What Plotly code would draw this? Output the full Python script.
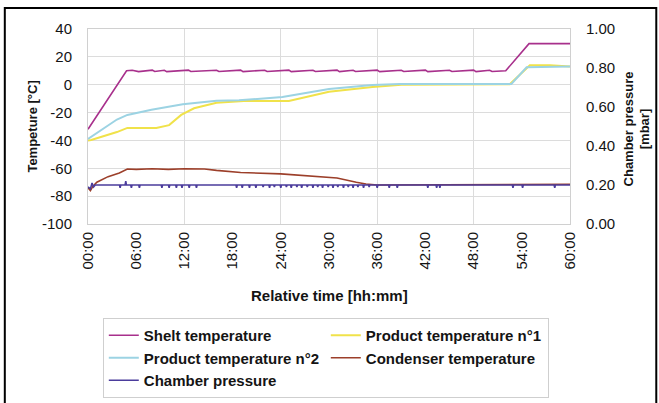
import plotly.graph_objects as go

# ---------------- data (hours, values) ----------------
shelf_t = [0, 4.8, 5.5, 6.0, 6.3, 8.0, 8.3, 9.5, 9.8, 12.5, 12.8, 16.0, 16.3, 19.0, 19.3,
           22.0, 22.3, 25.0, 25.3, 28.0, 28.3, 31.0, 31.3, 33.0, 33.3, 36.0, 36.3, 39.0, 39.3,
           42.0, 42.3, 45.0, 45.3, 48.0, 48.3, 50.0, 50.3, 52.0, 54.9, 60.0]
shelf_v = [-32, 10, 10.4, 10.0, 9.4, 10.5, 9.5, 10.4, 9.4, 10.5, 9.5, 10.4, 9.5, 10.5, 9.4,
           10.4, 9.5, 10.5, 9.4, 10.4, 9.5, 10.5, 9.4, 10.4, 9.5, 10.5, 9.4, 10.4, 9.5,
           10.5, 9.4, 10.4, 9.5, 10.5, 9.4, 10.4, 9.5, 10.0, 29.5, 29.5]

prod1_t = [0, 0.4, 3.6, 4.9, 8.5, 10.1, 11.6, 13.2, 16.0, 19.4, 25.0, 30.0, 35.4, 39.0, 52.5, 55.0, 57.5, 60.0]
prod1_v = [-40, -39.7, -34, -31, -31, -29, -21.7, -16.9, -13, -11.7, -11.7, -5, -1.6, 0, 0.3, 14, 14, 13]

prod2_t = [0, 3.6, 4.9, 7.9, 11.8, 16.0, 18.8, 24.2, 30.0, 35.4, 38.8, 52.7, 54.6, 60.0]
prod2_v = [-39, -25, -21.7, -18, -14, -11.5, -11.2, -8.8, -3.1, -0.2, 0.5, 0.5, 12.5, 13]

cond_t = [0, 0.3, 0.6, 1.1, 2.5, 3.9, 4.9, 6.0, 8.0, 10.0, 12.0, 14.5, 16.0, 19.0, 24.0,
          28.0, 31.0, 33.4, 34.6, 36.0, 52.0, 56.0, 60.0]
cond_v = [-74, -76, -73, -70, -66, -63.4, -60.5, -60.8, -60.3, -60.8, -60.3, -60.5, -61.5, -63, -64,
          -65.5, -67, -70, -71.3, -72, -72, -71.5, -71.5]

press_t = [0, 0.3, 0.5, 0.7, 0.9, 3.92, 4.0, 4.08, 4.62, 4.7, 4.78, 5.32, 5.4, 5.48, 6.32, 6.4, 6.48,
           9.12, 9.2, 9.28, 10.02, 10.1, 10.18, 10.92, 11.0, 11.08, 11.62, 11.7, 11.78,
           12.52, 12.6, 12.68, 13.42, 13.5, 13.58, 18.42, 18.5, 18.58, 19.12, 19.2, 19.28,
           20.02, 20.1, 20.18, 20.82, 20.9, 20.98, 21.72, 21.8, 21.88, 22.52, 22.6, 22.68,
           23.12, 23.2, 23.28, 23.92, 24.0, 24.08, 24.62, 24.7, 24.78, 25.22, 25.3, 25.38,
           25.92, 26.0, 26.08, 26.52, 26.6, 26.68, 27.22, 27.3, 27.38, 27.92, 28.0, 28.08,
           28.52, 28.6, 28.68, 29.12, 29.2, 29.28, 29.82, 29.9, 29.98, 30.42, 30.5, 30.58,
           31.02, 31.1, 31.18, 31.72, 31.8, 31.88, 32.32, 32.4, 32.48, 32.92, 33.0, 33.08,
           33.52, 33.6, 33.68, 34.22, 34.3, 34.38, 34.92, 35.0, 35.08, 35.92, 36.0, 36.08,
           37.42, 37.5, 37.58, 38.42, 38.5, 38.58, 42.22, 42.3, 42.38, 43.32, 43.4, 43.48,
           43.72, 43.8, 43.88, 52.82, 52.9, 52.98, 54.02, 54.1, 54.18, 58.02, 58.1, 58.18, 60.0]
press_v = [0.19, 0.18, 0.21, 0.19, 0.2, 0.2, 0.185, 0.2, 0.2, 0.22, 0.2, 0.2, 0.185, 0.2, 0.2, 0.185, 0.2,
           0.2, 0.185, 0.2, 0.2, 0.185, 0.2, 0.2, 0.185, 0.2, 0.2, 0.185, 0.2,
           0.2, 0.185, 0.2, 0.2, 0.185, 0.2, 0.2, 0.185, 0.2, 0.2, 0.185, 0.2,
           0.2, 0.185, 0.2, 0.2, 0.185, 0.2, 0.2, 0.19, 0.2, 0.2, 0.185, 0.2,
           0.2, 0.19, 0.2, 0.2, 0.185, 0.2, 0.2, 0.19, 0.2, 0.2, 0.185, 0.2,
           0.2, 0.19, 0.2, 0.2, 0.185, 0.2, 0.2, 0.19, 0.2, 0.2, 0.185, 0.2,
           0.2, 0.19, 0.2, 0.2, 0.185, 0.2, 0.2, 0.19, 0.2, 0.2, 0.185, 0.2,
           0.2, 0.19, 0.2, 0.2, 0.185, 0.2, 0.2, 0.19, 0.2, 0.2, 0.185, 0.2,
           0.2, 0.19, 0.2, 0.2, 0.185, 0.2, 0.2, 0.19, 0.2, 0.2, 0.185, 0.2,
           0.2, 0.185, 0.2, 0.2, 0.185, 0.2, 0.2, 0.185, 0.2, 0.2, 0.185, 0.2,
           0.2, 0.185, 0.2, 0.2, 0.185, 0.2, 0.2, 0.185, 0.2, 0.2, 0.185, 0.2, 0.2]

x_ticks = [0, 6, 12, 18, 24, 30, 36, 42, 48, 54, 60]
x_labels = ["00:00", "06:00", "12:00", "18:00", "24:00", "30:00", "36:00", "42:00", "48:00", "54:00", "60:00"]
y_ticks = [40, 20, 0, -20, -40, -60, -80, -100]
y_labels = ["40", "20", "0", "-20", "-40", "-60", "-80", "-100"]
y2_ticks = [1.0, 0.8, 0.6, 0.4, 0.2, 0.0]
y2_labels = ["1.00", "0.80", "0.60", "0.40", "0.20", "0.00"]

names = ["Shelt temperature", "Product temperature n°1", "Product temperature n°2",
         "Condenser temperature", "Chamber pressure"]

# ---------------- figure ----------------
FONT = "Liberation Sans, Arial, sans-serif"
TXT = "#141414"
fig = go.Figure()

fig.add_trace(go.Scatter(x=shelf_t, y=shelf_v, name=names[0], mode="lines",
                         line=dict(color="#a8308c", width=1.6)))
fig.add_trace(go.Scatter(x=prod1_t, y=prod1_v, name=names[1], mode="lines",
                         line=dict(color="#f0e24a", width=2)))
fig.add_trace(go.Scatter(x=prod2_t, y=prod2_v, name=names[2], mode="lines",
                         line=dict(color="#9cd3e3", width=2)))
fig.add_trace(go.Scatter(x=cond_t, y=cond_v, name=names[3], mode="lines",
                         line=dict(color="#9c3f2a", width=1.6)))
fig.add_trace(go.Scatter(x=press_t, y=press_v, name=names[4], mode="lines", yaxis="y2",
                         line=dict(color="#4b3c9c", width=1.6)))

# invisible helper trace so the 12-hour grid axis exists
fig.add_trace(go.Scatter(x=[0, 60], y=[None, None], xaxis="x2", showlegend=False, hoverinfo="skip"))

fig.update_layout(
    width=659, height=403,
    margin=dict(l=88, r=89, t=29, b=179, autoexpand=False),
    paper_bgcolor="white", plot_bgcolor="white",
    font=dict(family=FONT, color=TXT),
    showlegend=True,
    xaxis=dict(range=[0, 60], tickvals=x_ticks, ticktext=x_labels, tickangle=-90,
               showgrid=False, zeroline=False, showline=True, linecolor="#d0d0d0",
               mirror=True, ticks="", ticklabelstandoff=1,
               tickfont=dict(size=15, family=FONT, color=TXT)),
    xaxis2=dict(range=[0, 60], overlaying="x", dtick=12, tick0=0, showgrid=True,
                gridcolor="#dcdcdc", gridwidth=1, showticklabels=False, zeroline=False,
                layer="below traces"),
    yaxis=dict(range=[-100, 40], tickvals=y_ticks, ticktext=y_labels, showgrid=True,
               gridcolor="#dcdcdc", zeroline=False, showline=True, linecolor="#d0d0d0",
               ticks="", ticklabelstandoff=12, tickfont=dict(size=15, family=FONT, color=TXT)),
    yaxis2=dict(range=[0, 1], tickvals=y2_ticks, ticktext=y2_labels, overlaying="y",
                side="right", showgrid=False, zeroline=False, showline=True,
                linecolor="#d0d0d0", ticks="", ticklabelstandoff=12,
                tickfont=dict(size=15, family=FONT, color=TXT)),
    legend=dict(orientation="h", xref="container", yref="container",
                x=0.156, y=0.211, xanchor="left", yanchor="top",
                entrywidth=177, entrywidthmode="pixels",
                bordercolor="#cfcfcf", borderwidth=1, bgcolor="white",
                font=dict(size=15, family=FONT, color=TXT, weight="bold")),
)

fig.add_annotation(text="<b>Tempeture [°C]</b>", xref="paper", yref="paper",
                   x=-0.116, y=0.5, textangle=-90, showarrow=False,
                   xanchor="center", yanchor="middle", font=dict(size=13, family=FONT, color=TXT))
fig.add_annotation(text="<b>Chamber pressure<br>[mbar]</b>", xref="paper", yref="paper",
                   x=1.139, y=0.49, textangle=-90, showarrow=False,
                   xanchor="center", yanchor="middle", font=dict(size=13, family=FONT, color=TXT))
fig.add_annotation(text="<b>Relative time [hh:mm]</b>", xref="paper", yref="paper",
                   x=0.5, y=-0.369, showarrow=False,
                   xanchor="center", yanchor="middle", font=dict(size=15, family=FONT, color=TXT))

# outer frame
fig.add_shape(type="rect", xref="paper", yref="paper",
              x0=-0.1726, x1=1.179, y0=-0.99, y1=1.1077,
              line=dict(color="black", width=2), fillcolor="rgba(0,0,0,0)", layer="above")

fig.write_html("out.html", config={"displayModeBar": False},
               post_script="document.body.style.margin='0';")
